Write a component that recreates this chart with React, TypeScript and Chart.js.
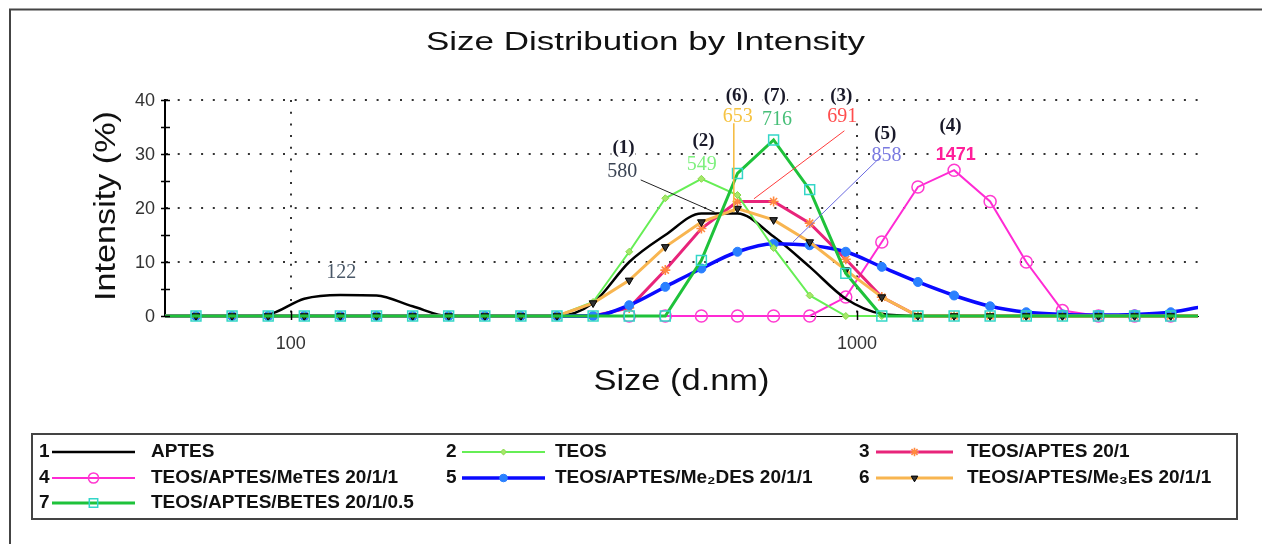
import React, { useEffect, useRef } from "react";
import { Chart, registerables } from "chart.js";

Chart.register(...registerables);

// ---------- data ----------
// size classes (d.nm)
const sizeBins = [58.77, 68.06, 78.82, 91.28, 105.7, 122.4, 141.8, 164.2, 190.1, 220.2, 255.0, 295.3, 342.0, 396.1, 458.7, 531.2, 615.1, 712.4, 825.0, 955.4, 1106, 1281, 1484, 1718, 1990, 2305, 2669, 3091, 3580, 4145];

// intensity (%) per size class
const aptes = [0, 0, 0, 0.3, 3.2, 3.9, 3.8, 1.8, 0, 0, 0, 0, 2.4, 10.0, 15.0, 19.0, 19.0, 14.7, 9.1, 3.2, 0.4, 0, 0, 0, 0, 0, 0, 0, 0, 0];
const teos = [0, 0, 0, 0, 0, 0, 0, 0, 0, 0, 0, 0, 2.6, 11.9, 21.8, 25.4, 22.4, 12.6, 3.8, 0, 0, 0, 0, 0, 0, 0, 0, 0, 0, 0];
const teosAptes = [0, 0, 0, 0, 0, 0, 0, 0, 0, 0, 0, 0, 0, 1.5, 8.5, 16.2, 21.2, 21.2, 17.2, 10.5, 3.5, 0, 0, 0, 0, 0, 0, 0, 0, 0];
const meTES = [null, null, null, null, null, null, null, null, null, null, null, null, null, 0, 0, 0, 0, 0, 0, 3.5, 13.7, 23.9, 27.0, 21.2, 10.0, 1.0, 0, 0, 0, 0];
const me2DES = [0, 0, 0, 0, 0, 0, 0, 0, 0, 0, 0, 0, 0, 2.0, 5.4, 8.8, 11.9, 13.4, 13.1, 11.9, 9.1, 6.3, 3.8, 1.8, 0.7, 0.3, 0.2, 0.3, 0.7, 1.9];
const me3ES = [0, 0, 0, 0, 0, 0, 0, 0, 0, 0, 0, 0, 2.4, 6.6, 12.8, 17.4, 19.9, 17.8, 13.7, 8.5, 3.5, 0, 0, 0, 0, 0, 0, 0, 0, 0];
const betes = [0, 0, 0, 0, 0, 0, 0, 0, 0, 0, 0, 0, 0, 0, 0, 10.3, 26.4, 32.6, 23.4, 7.9, 0, 0, 0, 0, 0, 0, 0, 0, 0, 0];

const seriesNumbers = ["1", "2", "3", "4", "5", "6", "7"];
const seriesNames = [
  "APTES",
  "TEOS",
  "TEOS/APTES 20/1",
  "TEOS/APTES/MeTES 20/1/1",
  "TEOS/APTES/Me\u2082DES 20/1/1",
  "TEOS/APTES/Me\u2083ES 20/1/1",
  "TEOS/APTES/BETES 20/1/0.5",
];
const seriesValues = [aptes, teos, teosAptes, meTES, me2DES, me3ES, betes];

const yTicks = [0, 10, 20, 30, 40];
const yMinorTicks = [5, 15, 25, 35];
const xTicks = [100, 1000];
const xTickLabels = ["100", "1000"];

const peakTags = ["(1)", "(2)", "(3)", "(4)", "(5)", "(6)", "(7)"];
const peakValues = ["580", "549", "691", "1471", "858", "653", "716"];
const minorPeakValue = "122";

const titleText = "Size Distribution by Intensity";
const xTitle = "Size (d.nm)";
const yTitle = "Intensity (%)";

// ---------- styles / layout ----------
const X_MIN = 60;
const X_MAX = 4000;
const SANS = '"Liberation Sans", Arial, Helvetica, sans-serif';
const SERIF = '"Liberation Serif", "Times New Roman", serif';

type SeriesStyle = {
  line: string;
  width: number;
  point: string;
  radius: number;
  pFill: string;
  pStroke: string;
  pWidth: number;
  rot: number;
  order: number;
  smooth: boolean;
};

const styles: SeriesStyle[] = [
  { line: "#000000", width: 2.5, point: "circle", radius: 0, pFill: "#000", pStroke: "#000", pWidth: 0, rot: 0, order: 5, smooth: true },
  { line: "#66ee55", width: 2, point: "rectRot", radius: 3.5, pFill: "#a6e86a", pStroke: "#86d84a", pWidth: 1, rot: 0, order: 2, smooth: false },
  { line: "#e8247a", width: 3, point: "star", radius: 5, pFill: "#ff8a40", pStroke: "#ff8a40", pWidth: 1.6, rot: 0, order: 4, smooth: false },
  { line: "#ff2ad4", width: 2, point: "circle", radius: 6, pFill: "rgba(0,0,0,0)", pStroke: "#ff3ad0", pWidth: 1.5, rot: 0, order: 6, smooth: false },
  { line: "#0a0aff", width: 3.5, point: "circle", radius: 4.5, pFill: "#2a80ff", pStroke: "#2a80ff", pWidth: 1, rot: 0, order: 3, smooth: true },
  { line: "#f8b550", width: 3, point: "triangle", radius: 4.5, pFill: "#333", pStroke: "#000", pWidth: 1, rot: 180, order: 1, smooth: false },
  { line: "#1ec23a", width: 3, point: "rect", radius: 7, pFill: "rgba(0,0,0,0)", pStroke: "#33d6c8", pWidth: 1.5, rot: 0, order: 0, smooth: false },
];

// annotation placement, in data coordinates (size, intensity)
const tagAt = [[387, 31.1], [536, 32.4], [938, 40.8], [1463, 35.2], [1122, 33.7], [613.5, 40.8], [716, 40.8]];
const valueAt = [[385, 26.8], [532, 28.1], [942, 36.9], [1494, 29.8], [1127, 29.6], [616, 36.9], [722, 36.3]];
const valueColors = ["#3b4454", "#7ef07e", "#ff4d4d", "#ff1f9a", "#7a7ae0", "#f6c341", "#47bf78"];
const valueFonts = [
  `20px ${SERIF}`, `20px ${SERIF}`, `20px ${SERIF}`, `bold 18px ${SANS}`,
  `20px ${SERIF}`, `20px ${SERIF}`, `20px ${SERIF}`,
];
const leaders: ({ from: number[]; to: number[]; color: string; w: number } | null)[] = [
  { from: [415, 25.2], to: [561, 19.2], color: "#222", w: 1 },
  null,
  { from: [950, 34.3], to: [657.6, 21.7], color: "#ff3b3b", w: 1 },
  null,
  { from: [1104, 29.6], to: [771, 13.7], color: "#6a6ae0", w: 1 },
  { from: [606, 35.7], to: [606, 19.2], color: "#f5b93a", w: 1.5 },
  null,
];
const minorPeakAt = [122.8, 8.1];

const legendBox = { x: 32, y: 434, w: 1205, h: 85 };
const legendCols = [
  { num: 39, x0: 52, x1: 135, text: 151 },
  { num: 446, x0: 462, x1: 545, text: 555 },
  { num: 859, x0: 876, x1: 953, text: 967 },
];
const legendRows = [452, 478, 503];

function drawMarker(ctx: CanvasRenderingContext2D, s: SeriesStyle, x: number, y: number, scale = 1) {
  const r = s.radius * scale;
  if (r <= 0) return;
  ctx.save();
  ctx.fillStyle = s.pFill;
  ctx.strokeStyle = s.pStroke;
  ctx.lineWidth = s.pWidth;
  ctx.beginPath();
  if (s.point === "circle") {
    ctx.arc(x, y, r, 0, Math.PI * 2);
    ctx.fill();
    ctx.stroke();
  } else if (s.point === "rect") {
    const h = r * Math.SQRT1_2;
    ctx.rect(x - h, y - h, 2 * h, 2 * h);
    ctx.fill();
    ctx.stroke();
  } else if (s.point === "rectRot") {
    ctx.moveTo(x, y - r);
    ctx.lineTo(x + r, y);
    ctx.lineTo(x, y + r);
    ctx.lineTo(x - r, y);
    ctx.closePath();
    ctx.fill();
    ctx.stroke();
  } else if (s.point === "triangle") {
    let a = (s.rot * Math.PI) / 180;
    for (let k = 0; k < 3; k++) {
      const px = x + Math.sin(a) * r;
      const py = y - Math.cos(a) * r;
      if (k === 0) ctx.moveTo(px, py);
      else ctx.lineTo(px, py);
      a += (2 * Math.PI) / 3;
    }
    ctx.closePath();
    ctx.fill();
    ctx.stroke();
  } else if (s.point === "star") {
    ctx.moveTo(x - r, y);
    ctx.lineTo(x + r, y);
    ctx.moveTo(x, y - r);
    ctx.lineTo(x, y + r);
    const d = r * Math.SQRT1_2;
    ctx.moveTo(x - d, y - d);
    ctx.lineTo(x + d, y + d);
    ctx.moveTo(x - d, y + d);
    ctx.lineTo(x + d, y - d);
    ctx.stroke();
  }
  ctx.restore();
}

function drawFitted(
  ctx: CanvasRenderingContext2D,
  text: string,
  x: number,
  y: number,
  font: string,
  color: string,
  targetWidth: number,
  rotation = 0
) {
  ctx.save();
  ctx.font = font;
  const w = ctx.measureText(text).width;
  const sx = targetWidth > 0 && w > 0 ? targetWidth / w : 1;
  ctx.translate(x, y);
  if (rotation) ctx.rotate(rotation);
  ctx.scale(sx, 1);
  ctx.fillStyle = color;
  ctx.textAlign = "center";
  ctx.textBaseline = "alphabetic";
  ctx.fillText(text, 0, 0);
  ctx.restore();
}

function drawText(
  ctx: CanvasRenderingContext2D,
  text: string,
  x: number,
  y: number,
  font: string,
  color: string,
  align: CanvasTextAlign = "center",
  baseline: CanvasTextBaseline = "middle",
  clearBg = false
) {
  ctx.save();
  ctx.font = font;
  ctx.textAlign = align;
  ctx.textBaseline = baseline;
  if (clearBg) {
    const m = ctx.measureText(text);
    const w = m.width;
    const left = align === "center" ? x - w / 2 : align === "right" ? x - w : x;
    const top = y - m.actualBoundingBoxAscent - 1;
    const h = m.actualBoundingBoxAscent + m.actualBoundingBoxDescent + 2;
    ctx.fillStyle = "#fff";
    ctx.fillRect(left - 1, top, w + 2, h);
  }
  ctx.fillStyle = color;
  ctx.fillText(text, x, y);
  ctx.restore();
}

const decorPlugin = {
  id: "decor",
  afterDraw(chart: any) {
    const ctx: CanvasRenderingContext2D = chart.ctx;
    const xs = chart.scales.x;
    const ys = chart.scales.y;
    const X = (v: number) => xs.getPixelForValue(v);
    const Y = (v: number) => ys.getPixelForValue(v);
    const area = chart.chartArea;

    // outer frame
    ctx.save();
    ctx.strokeStyle = "#444";
    ctx.lineWidth = 2;
    ctx.strokeRect(10, 9.5, 1400, 700);
    ctx.restore();

    // titles
    drawFitted(ctx, titleText, 645.5, 50, `25px ${SANS}`, "#111", 439);
    drawFitted(ctx, xTitle, (area.left + area.right) / 2, 390, `29px ${SANS}`, "#111", 176);
    drawFitted(ctx, yTitle, 115, (area.top + area.bottom) / 2 - 2, `30px ${SANS}`, "#111", 190, -Math.PI / 2);

    // axis tick marks (crossing)
    ctx.save();
    ctx.strokeStyle = "#000";
    ctx.lineWidth = 1.5;
    ctx.beginPath();
    [...yTicks, ...yMinorTicks].forEach((v) => {
      const p = Math.round(Y(v)) + 0.5;
      ctx.moveTo(area.left - 4, p);
      ctx.lineTo(area.left + 5, p);
    });
    xTicks.forEach((v) => {
      const p = Math.round(X(v)) + 0.5;
      ctx.moveTo(p, area.bottom - 5);
      ctx.lineTo(p, area.bottom + 4);
    });
    ctx.stroke();
    ctx.restore();

    // tick labels
    yTicks.forEach((v) => {
      drawText(ctx, String(v), area.left - 10, Y(v) + 1.5, `18px ${SANS}`, "#333", "right", "middle");
    });
    xTicks.forEach((v, i) => {
      drawText(ctx, xTickLabels[i], X(v), 344, `18px ${SANS}`, "#333", "center", "middle");
    });

    // peak annotations (white backing hides grid dots)
    peakTags.forEach((t, i) => {
      drawText(ctx, t, X(tagAt[i][0]), Y(tagAt[i][1]), `bold 19px ${SERIF}`, "#1a1a2a", "center", "middle", true);
      drawText(ctx, peakValues[i], X(valueAt[i][0]), Y(valueAt[i][1]), valueFonts[i], valueColors[i], "center", "middle", true);
    });
    drawText(ctx, minorPeakValue, X(minorPeakAt[0]), Y(minorPeakAt[1]), `20px ${SERIF}`, "#4a5868");

    // leader lines
    leaders.forEach((l) => {
      if (!l) return;
      ctx.save();
      ctx.strokeStyle = l.color;
      ctx.lineWidth = l.w;
      ctx.beginPath();
      ctx.moveTo(X(l.from[0]), Y(l.from[1]));
      ctx.lineTo(X(l.to[0]), Y(l.to[1]));
      ctx.stroke();
      ctx.restore();
    });

    // legend
    ctx.save();
    ctx.strokeStyle = "#444";
    ctx.lineWidth = 2;
    ctx.strokeRect(legendBox.x, legendBox.y, legendBox.w, legendBox.h);
    ctx.restore();
    seriesNames.forEach((name, i) => {
      const col = legendCols[i % 3];
      const y = legendRows[Math.floor(i / 3)];
      const s = styles[i];
      drawText(ctx, seriesNumbers[i], col.num, y, `bold 19px ${SANS}`, "#111", "left", "middle");
      ctx.save();
      ctx.strokeStyle = s.line;
      ctx.lineWidth = Math.max(2, s.width);
      ctx.beginPath();
      ctx.moveTo(col.x0, y);
      ctx.lineTo(col.x1, y);
      ctx.stroke();
      ctx.restore();
      drawMarker(ctx, s, (col.x0 + col.x1) / 2, y, 0.85);
      drawText(ctx, name, col.text, y, `bold 19px ${SANS}`, "#111", "left", "middle");
    });
  },
};

export default function App() {
  const canvasRef = useRef<HTMLCanvasElement | null>(null);

  useEffect(() => {
    const canvas = canvasRef.current;
    if (!canvas) return;

    const datasets = seriesValues.map((vals, i) => {
      const s = styles[i];
      return {
        label: seriesNames[i],
        data: sizeBins.map((x, k) => ({ x, y: vals[k] })),
        borderColor: s.line,
        borderWidth: s.width,
        backgroundColor: s.line,
        pointStyle: s.point,
        pointRadius: (c: any) => {
          const raw = c.raw;
          if (!raw || raw.x < X_MIN || raw.x > X_MAX) return 0;
          return s.radius;
        },
        pointBackgroundColor: s.pFill,
        pointBorderColor: s.pStroke,
        pointBorderWidth: s.pWidth,
        pointRotation: s.rot,
        pointHoverRadius: 0,
        fill: false,
        tension: 0,
        cubicInterpolationMode: s.smooth ? "monotone" : "default",
        spanGaps: false,
        order: s.order,
        clip: { left: 0, right: 0, top: 10, bottom: 10 },
      };
    });

    const chart = new Chart(canvas, {
      type: "line",
      data: { datasets } as any,
      options: {
        responsive: false,
        animation: false,
        devicePixelRatio: 1,
        events: [],
        layout: { padding: { left: 165, top: 100, right: 64, bottom: 228 } },
        plugins: {
          legend: { display: false },
          title: { display: false },
          tooltip: { enabled: false },
        },
        scales: {
          x: {
            type: "logarithmic",
            min: X_MIN,
            max: X_MAX,
            afterBuildTicks: (sc: any) => {
              sc.ticks = xTicks.map((v) => ({ value: v }));
            },
            afterFit: (sc: any) => {
              sc.height = 0;
            },
            ticks: { display: false },
            grid: { color: "#333", lineWidth: 2, drawTicks: false },
            border: { display: true, color: "#000", width: 1, dash: [2, 9.7] },
          },
          y: {
            type: "linear",
            min: 0,
            max: 40,
            afterBuildTicks: (sc: any) => {
              sc.ticks = yTicks.map((v) => ({ value: v }));
            },
            afterFit: (sc: any) => {
              sc.width = 0;
            },
            ticks: { display: false },
            grid: {
              color: (c: any) => (c.tick && c.tick.value === 0 ? "rgba(0,0,0,0)" : "#333"),
              lineWidth: 2,
              drawTicks: false,
            },
            border: { display: true, color: "#000", width: 2, dash: [2, 9.7] },
          },
        },
      } as any,
      plugins: [decorPlugin as any],
    });

    return () => {
      chart.destroy();
    };
  }, []);

  return (
    <div style={{ position: "absolute", left: 0, top: 0, width: 1262, height: 544, background: "#fff" }}>
      <canvas ref={canvasRef} width={1262} height={544} style={{ display: "block", width: 1262, height: 544 }} />
    </div>
  );
}
